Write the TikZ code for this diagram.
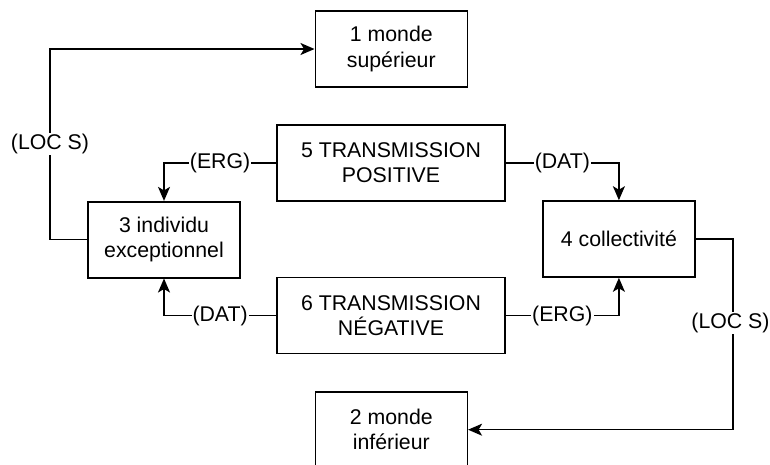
\documentclass[tikz,border=0pt]{standalone}
\usepackage{fontspec}
\setmainfont{Liberation Sans}
\usetikzlibrary{arrows.meta}
\begin{document}
\begin{tikzpicture}[x=1pt,y=-1pt,
  txt/.style={font=\fontsize{21.3}{25.3}\selectfont},
  box/.style={txt, draw, line width=1.6pt, minimum width=#1, minimum height=76pt,
    align=center, inner sep=0pt},
  box/.default=152pt,
  link/.style={line width=1.5pt, -{Stealth[length=14pt,width=12pt,inset=3.5pt]}},
  lab/.style={txt, fill=white, inner sep=1pt}]
  % page frame
  \fill[white] (0,0) rectangle (770,464);
  \clip (0,0) rectangle (770,464);

  % boxes
  \node[box] (b1) at (391.3,49) {1 monde\\supérieur};
  \node[box=228pt] (b5) at (391,163) {5 TRANSMISSION\\POSITIVE};
  \node[box] (b3) at (164,239.7) {3 individu\\exceptionnel};
  \node[box] (b4) at (618.9,239) {4 collectivité};
  \node[box=228pt] (b6) at (391,315.5) {6 TRANSMISSION\\NÉGATIVE};
  \node[box] (b2) at (391.3,429.7) {2 monde\\inférieur};

  % turning points of the outer loops
  \coordinate (cl) at (50,239.7);
  \coordinate (cr) at (733,239);

  % connectors
  \draw[link] (b5.west) -| node[lab,pos=0.25] {(ERG)} (b3.north);
  \draw[link] (b5.east) -| node[lab,pos=0.25] {(DAT)} (b4.north);
  \draw[link] (b6.west) -| node[lab,pos=0.25] {(DAT)} (b3.south);
  \draw[link] (b6.east) -| node[lab,pos=0.25] {(ERG)} (b4.south);
  \draw[link] (b3.west) -- (b3.west -| cl) |- node[lab,pos=0.25] {(LOC S)} (b1.west);
  \draw[link] (b4.east) -- (b4.east -| cr) |- node[lab,pos=0.22,xshift=-2.5pt,inner xsep=0pt] {(LOC S)} (b2.east);
\end{tikzpicture}
\end{document}
